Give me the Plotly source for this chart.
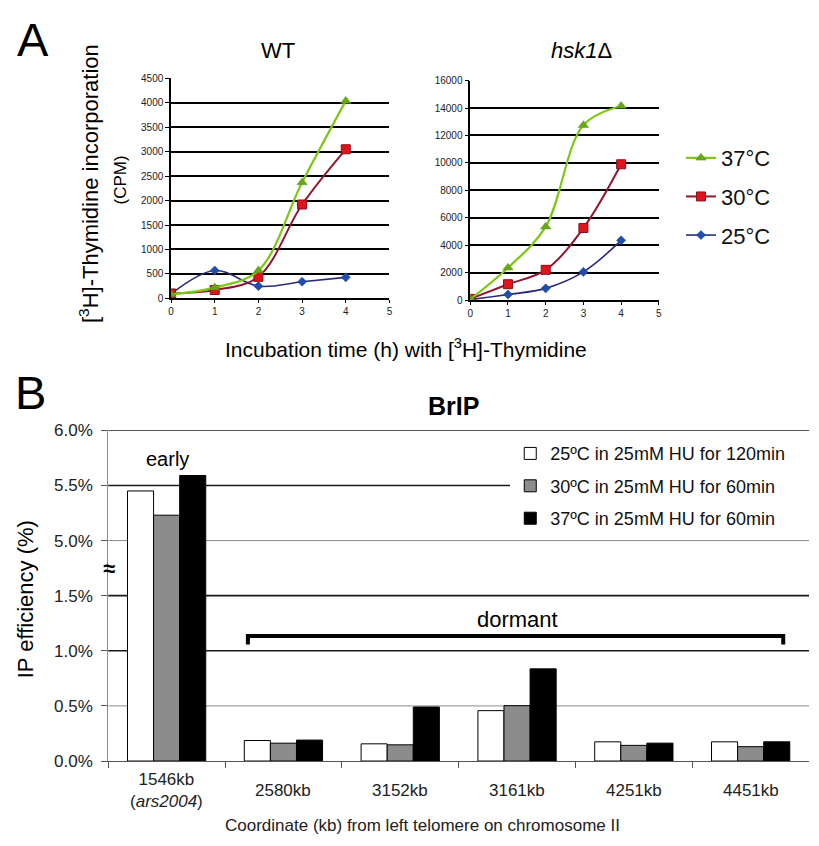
import plotly.graph_objects as go

W, H = 819, 846
FONT = "Liberation Sans, Arial, Helvetica, sans-serif"

# ---------------- Panel A: [3H]-thymidine incorporation (CPM) ----------------
HOURS = [0, 1, 2, 3, 4]
TEMPS = ["25°C", "30°C", "37°C"]

WT_25 = [90, 570, 250, 340, 430]
WT_30 = [100, 170, 440, 1920, 3050]
WT_37 = [80, 220, 570, 2370, 4040]

HSK_25 = [30, 400, 850, 2050, 4350]
HSK_30 = [80, 1150, 2200, 5250, 9900]
HSK_37 = [50, 2350, 5350, 12750, 14150]

# ---------------- Panel B: BrIP efficiency (%) ----------------
LOCI = ["1546kb", "2580kb", "3152kb", "3161kb", "4251kb", "4451kb"]
LOCUS_LABELS = ["1546kb<br>(<i>ars2004</i>)", "2580kb", "3152kb",
                "3161kb", "4251kb", "4451kb"]
CONDITIONS = ["25ºC in 25mM HU for 120min",
              "30ºC in 25mM HU for 60min",
              "37ºC in 25mM HU for 60min"]
IP_25 = [5.45, 0.186, 0.156, 0.457, 0.174, 0.174]
IP_30 = [5.23, 0.162, 0.147, 0.502, 0.142, 0.130]
IP_37 = [5.59, 0.190, 0.490, 0.836, 0.162, 0.174]
PCT_TICKS = [0.0, 0.5, 1.0, 1.5, 5.0, 5.5, 6.0]
LIGHT_GRID = [0.5, 5.0]
DARK_GRID = [1.0, 1.5, 5.5, 6.0]

# broken axis: 0-1.5% and 5.0-6.0% on one evenly spaced scale
BREAK_LO, BREAK_HI, STEP = 1.5, 5.0, 0.5


def broken(v):
    if v <= BREAK_LO:
        return v / STEP
    return BREAK_LO / STEP + 1 + (v - BREAK_HI) / STEP


def px_x(p):
    return p / W


def px_y(p):
    return 1 - p / H


fig = go.Figure()

line_styles = {
    "25°C": dict(line=dict(color="#2a2a7c", width=1.6),
                 marker=dict(symbol="diamond", size=7, color="#1d4fae",
                             line=dict(color="#1d3f8e", width=0.5))),
    "30°C": dict(line=dict(color="#921530", width=2),
                 marker=dict(symbol="square", size=9, color="#e0141c",
                             line=dict(color="#8a0f20", width=1))),
    "37°C": dict(line=dict(color="#7cc814", width=2.2),
                 marker=dict(symbol="triangle-up", size=9, color="#66a816",
                             line=dict(color="#5a9410", width=0.5))),
}
legend_rank = {"37°C": 1, "30°C": 2, "25°C": 3}

panelA = [("x", "y", [WT_25, WT_30, WT_37], False),
          ("x2", "y2", [HSK_25, HSK_30, HSK_37], True)]
for xa, ya, series, show in panelA:
    for temp, vals in zip(TEMPS, series):
        st = line_styles[temp]
        fig.add_trace(go.Scatter(
            x=HOURS, y=vals, name=temp, xaxis=xa, yaxis=ya,
            mode="lines+markers", line=dict(shape="spline", smoothing=1.0, **st["line"]),
            marker=st["marker"], legendgroup="a" + temp, showlegend=show,
            legendrank=legend_rank[temp], legend="legend",
        ))

bar_colors = ["#ffffff", "#8c8c8c", "#000000"]
for i, (cond, vals, col) in enumerate(zip(CONDITIONS, [IP_25, IP_30, IP_37], bar_colors)):
    fig.add_trace(go.Bar(
        x=LOCI, y=[broken(v) for v in vals], customdata=vals, name=cond,
        xaxis="x3", yaxis="y3", marker=dict(color=col, line=dict(color="#000", width=1)),
        hovertemplate="%{x}: %{customdata:.2f}%<extra>" + cond + "</extra>",
        legend="legend2", legendgroup="b" + cond, legendrank=i + 1,
    ))

tickfont_small = dict(family=FONT, size=10, color="#222")
axA_x = dict(range=[0, 5], dtick=1, tick0=0, showgrid=False, zeroline=False,
             showline=True, linecolor="#000", linewidth=1.5, ticks="outside",
             ticklen=3, tickcolor="#000", tickfont=tickfont_small)
axA_y = dict(showgrid=True, gridcolor="#000", gridwidth=1.6, zeroline=False,
             showline=True, linecolor="#000", linewidth=1.5, ticks="outside",
             ticklen=4, tickcolor="#000", tickfont=tickfont_small, tickformat="d")

fig.update_layout(
    width=W, height=H, margin=dict(l=0, r=0, t=0, b=0),
    paper_bgcolor="white", plot_bgcolor="white",
    font=dict(family=FONT, color="#000"),
    showlegend=True,
    bargap=0.33, bargroupgap=0, barmode="group",
    xaxis=dict(domain=[px_x(169.3), px_x(389.3)], anchor="y", **axA_x),
    yaxis=dict(domain=[px_y(296), px_y(71)], anchor="x", range=[0, 4500],
               dtick=500, **axA_y),
    xaxis2=dict(domain=[px_x(470.7), px_x(660.7)], anchor="y2", **axA_x),
    yaxis2=dict(domain=[px_y(297.7), px_y(73.3)], anchor="x2", range=[0, 16000],
                dtick=2000, **axA_y),
    xaxis3=dict(domain=[px_x(106), px_x(812)], anchor="y3", type="category",
                showticklabels=False, tickson="boundaries", ticks="outside",
                ticklen=6, tickcolor="#555", showline=True, linecolor="#555",
                linewidth=1, showgrid=False, zeroline=False),
    yaxis3=dict(domain=[px_y(769.3), px_y(431)], anchor="x3",
                range=[0, broken(6.0)],
                tickvals=[broken(t) for t in PCT_TICKS],
                ticktext=[f"{t:.1f}%" for t in PCT_TICKS],
                tickfont=dict(family=FONT, size=17, color="#222"),
                ticks="outside", ticklen=6, tickcolor="#555",
                ticklabelstandoff=5, showgrid=False,
                showline=True, linecolor="#8c8c8c", linewidth=1, zeroline=False),
    legend=dict(x=px_x(683), y=px_y(131), xanchor="left", yanchor="top",
                font=dict(family=FONT, size=22, color="#111"),
                traceorder="grouped", tracegroupgap=7,
                bgcolor="rgba(0,0,0,0)"),
    legend2=dict(x=px_x(511), y=px_y(436), xanchor="left", yanchor="top",
                 font=dict(family=FONT, size=18, color="#111"),
                 traceorder="grouped", tracegroupgap=6,
                 bgcolor="white"),
)

# grid of the broken percentage axis: lighter and darker lines
for t in LIGHT_GRID:
    fig.add_shape(type="line", xref="x3 domain", yref="y3", x0=0, x1=1,
                  y0=broken(t), y1=broken(t), layer="below",
                  line=dict(color="#8c8c8c", width=1))
for t in DARK_GRID:
    fig.add_shape(type="line", xref="x3 domain", yref="y3", x0=0, x1=1,
                  y0=broken(t), y1=broken(t), layer="below",
                  line=dict(color="#1a1a1a", width=1.6))

# white panel behind the bar legend, reaching the right edge of the plot
fig.add_shape(type="rect", xref="paper", yref="paper", layer="below",
              x0=px_x(511), x1=px_x(812.5), y0=px_y(536), y1=px_y(437),
              fillcolor="white", line=dict(width=0))

# "dormant" bracket
fig.add_shape(type="path", xref="paper", yref="paper", layer="above",
              path=(f"M {px_x(246.7)},{px_y(650)} L {px_x(246.7)},{px_y(641.5)} "
                    f"L {px_x(786)},{px_y(641.5)} L {px_x(786)},{px_y(650)}"),
              line=dict(color="#000", width=4))

ann = []


def text(x, y, s, size, **kw):
    ann.append(dict(x=px_x(x), y=px_y(y), xref="paper", yref="paper", text=s,
                    showarrow=False, font=dict(family=FONT, size=size,
                                               color=kw.pop("color", "#000")),
                    xanchor=kw.pop("xanchor", "center"),
                    yanchor=kw.pop("yanchor", "middle"), **kw))


text(30, 31, "A", 47)
text(28, 392, "B", 47)
text(276.7, 42, "WT", 22)
text(582.3, 42, "<i>hsk1</i>Δ", 22)
text(86.7, 179, "[<sup>3</sup>H]-Thymidine incorporation", 22, textangle=-90)
text(118.3, 175, "(CPM)", 17, textangle=-90)
text(405.7, 347, "Incubation time (h) with [<sup>3</sup>H]-Thymidine", 21)
text(454, 406, "<b>BrIP</b>", 25)
text(166, 460, "early", 20)
text(518, 625, "dormant", 22)
text(23, 604, "IP efficiency (%)", 22, textangle=-90)
text(423, 835, "Coordinate (kb) from left telomere on chromosome II", 17, color="#222")
text(107, 572, "<b>≈</b>", 22)

for loc, lab in zip(LOCI, LOCUS_LABELS):
    ann.append(dict(x=loc, xref="x3", y=px_y(799), yref="paper", text=lab,
                    showarrow=False, xanchor="center", yanchor="middle",
                    font=dict(family=FONT, size=17, color="#222")))

fig.update_layout(annotations=ann)
fig.write_html("out.html")
